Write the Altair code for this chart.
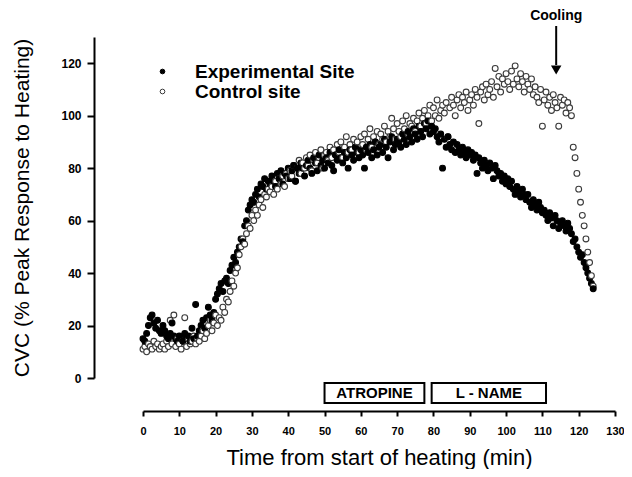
import altair as alt
import pandas as pd

# ---------------- data ----------------
# sampling grid: one reading every 0.5 min from 0 to 124 min
time_min = [i / 2 for i in range(249)]

experimental_site = [
    15, 14, 17, 20, 23, 24, 21, 19, 22, 18, 17,
    20, 18, 16, 15, 17, 21, 16, 15, 14, 16,
    15, 14, 17, 15, 16, 14, 19, 15, 28, 16,
    18, 20, 22, 19, 23, 27, 24, 22, 25, 30,
    32, 34, 36, 33, 37, 38, 36, 41, 43, 46,
    44, 48, 50, 53, 52, 58, 60, 64, 66, 68,
    67, 70, 72, 69, 74, 73, 76, 72, 75, 74,
    77, 75, 73, 78, 76, 79, 74, 78, 77, 80,
    76, 79, 81, 75, 80, 78, 82, 80, 77, 81,
    83, 80, 78, 84, 82, 79, 85, 81, 83, 80,
    84, 82, 86, 81, 79, 85, 83, 87, 84, 82,
    86, 84, 80, 87, 85, 83, 88, 86, 84, 87,
    85, 80, 88, 86, 89, 84, 87, 90, 85, 88,
    89, 86, 91, 88, 84, 90, 92, 87, 89, 91,
    90, 88, 93, 91, 89, 94, 92, 90, 95, 93,
    91, 96, 94, 92, 97, 95, 98, 93, 96, 94,
    95, 92, 90, 93, 80, 91, 88, 92, 89, 87,
    90, 86, 89, 87, 85, 88, 86, 84, 87, 85,
    86, 83, 85, 78, 84, 82, 80, 83, 81, 79,
    82, 80, 76, 81, 79, 77, 78, 75, 77, 74,
    76, 73, 75, 72, 70, 73, 71, 69, 72, 70,
    68, 70, 67, 65, 68, 66, 64, 67, 65, 63,
    64, 62, 60, 63, 61, 58, 62, 60, 57, 59,
    60, 58, 56, 59, 57, 55, 52, 53, 50, 48,
    46, 47, 44, 42, 40, 38, 36, 34,
]

control_site = [
    11, 12, 10, 13, 12, 11, 14, 12, 13, 11, 12,
    13, 11, 14, 12, 22, 13, 24, 12, 15, 13,
    11, 14, 23, 12, 15, 13, 14, 16, 13, 15,
    14, 16, 18, 15, 17, 20, 22, 18, 21, 24,
    20, 23, 22, 27, 25, 30, 29, 33, 37, 35,
    40, 42, 47, 50, 53, 51, 55, 58, 57, 62,
    60, 64, 62, 66, 68, 65, 70, 69, 72, 71,
    73, 70, 75, 72, 76, 74, 77, 73, 78, 76,
    79, 77, 81, 75, 80, 83, 78, 82, 80, 84,
    81, 85, 79, 83, 86, 82, 84, 87, 80, 85,
    86, 83, 88, 84, 87, 85, 89, 86, 90, 84,
    88, 92, 86, 89, 87, 91, 88, 90, 86, 92,
    89, 93, 87, 91, 95, 88, 92, 90, 94, 89,
    93, 91, 96, 90, 94, 92, 99, 95, 91, 97,
    94, 92, 98, 95, 100, 93, 97, 96, 99, 94,
    98, 101, 96, 99, 102, 97, 100, 104, 98, 103,
    100, 106, 99, 102, 104, 101, 105, 92, 103, 107,
    104, 100, 106, 108, 103, 107, 105, 109, 102, 106,
    108, 104, 110, 107, 97, 109, 111, 106, 112, 108,
    110, 113, 107, 118, 111, 115, 109, 114, 112, 116,
    113, 110, 117, 112, 119, 114, 111, 116, 113, 109,
    115, 112, 110, 114, 108, 111, 107, 105, 110, 96,
    106, 109, 104, 107, 102, 108, 105, 103, 96, 107,
    104, 106, 101, 105, 103, 100, 88, 84, 78, 72,
    67, 62, 58, 53, 48, 44, 39, 35,
]

site_names = ["Experimental Site", "Control site"]

drug_labels = ["ATROPINE", "L - NAME"]
drug_start = [50, 79.5]
drug_end = [77.5, 111]

cooling_label = ["Cooling"]
cooling_time = [113.8]

x_ticks = [0, 10, 20, 30, 40, 50, 60, 70, 80, 90, 100, 110, 120, 130]
y_ticks = [0, 20, 40, 60, 80, 100, 120]

# ---------------- tables ----------------
rows = []
for t, c, e in zip(time_min, control_site, experimental_site):
    rows.append({"time": t, "cvc": c, "site": site_names[1]})
    rows.append({"time": t, "cvc": e, "site": site_names[0]})
points_df = pd.DataFrame(rows)
drugs_df = pd.DataFrame({"label": drug_labels, "start": drug_start, "end": drug_end})
cool_df = pd.DataFrame({"label": cooling_label, "time": cooling_time})

FONT = "Liberation Sans"
W, H = 472, 341

xscale = alt.Scale(domain=[0, 130], nice=False, zero=False)
yscale = alt.Scale(domain=[0, 130], nice=False, zero=False)

x_axis = alt.Axis(
    values=x_ticks, title="Time from start of heating (min)", offset=33, grid=False,
    tickSize=5, tickWidth=2, tickColor="black", domainWidth=2, domainColor="black",
    labelFont=FONT, labelFontSize=11, labelFontWeight="bold", labelColor="black",
    labelPadding=9, labelFlush=False, labelOverlap=False,
    titleFont=FONT, titleFontSize=22, titleFontWeight="normal", titleColor="black",
    titleY=36, titleBaseline="top",
)
y_axis = alt.Axis(
    values=y_ticks, title="CVC (% Peak Response to Heating)", offset=49, grid=False,
    tickSize=7, tickWidth=2, tickColor="black", domainWidth=2, domainColor="black",
    labelFont=FONT, labelFontSize=12, labelFontWeight="bold", labelColor="black",
    labelPadding=6, labelFlush=False, labelOverlap=False,
    titleFont=FONT, titleFontSize=21, titleFontWeight="normal", titleColor="black",
    titleX=-62, titleY=H / 2, titleBaseline="bottom",
)

points = alt.Chart(points_df).mark_point(
    shape="circle", size=34, filled=True, opacity=1, strokeWidth=1.1
).encode(
    x=alt.X("time:Q", scale=xscale, axis=x_axis),
    y=alt.Y("cvc:Q", scale=yscale, axis=y_axis),
    fill=alt.Fill("site:N", scale=alt.Scale(domain=site_names, range=["black", "white"]), title=None),
    stroke=alt.Stroke("site:N", scale=alt.Scale(domain=site_names, range=["black", "#3a3a3a"]), title=None),
    order=alt.Order("time:Q"),
)

boxes = alt.Chart(drugs_df).mark_rect(fill="white", stroke="black", strokeWidth=2).encode(
    x=alt.X("start:Q", scale=xscale, axis=x_axis),
    x2="end:Q",
    y=alt.value(346),
    y2=alt.value(366),
)
box_text = alt.Chart(drugs_df).transform_calculate(
    mid="(datum.start + datum.end) / 2"
).mark_text(font=FONT, fontSize=15, fontWeight="bold", color="black", baseline="middle").encode(
    x=alt.X("mid:Q", scale=xscale, axis=x_axis),
    y=alt.value(356),
    text="label:N",
)

arrow_shaft = alt.Chart(cool_df).mark_rule(color="black", strokeWidth=2).encode(
    x=alt.X("time:Q", scale=xscale, axis=x_axis),
    y=alt.value(-11),
    y2=alt.value(28),
)
arrow_head = alt.Chart(cool_df).mark_point(
    shape="triangle-down", size=110, filled=True, color="black", opacity=1
).encode(
    x=alt.X("time:Q", scale=xscale, axis=x_axis),
    y=alt.value(33),
)
cool_text = alt.Chart(cool_df).mark_text(
    font=FONT, fontSize=14, fontWeight="bold", color="black", baseline="middle"
).encode(
    x=alt.X("time:Q", scale=xscale, axis=x_axis),
    y=alt.value(-21),
    text="label:N",
)

chart = alt.layer(points, boxes, box_text, arrow_shaft, arrow_head, cool_text).properties(
    width=W, height=H,
    autosize=alt.AutoSizeParams(type="none"),
    padding={"left": 135, "top": 29, "right": 9, "bottom": 91},
).configure_view(strokeWidth=0).configure_legend(
    orient="none", legendX=10, legendY=25, padding=0, offset=0,
    labelFont=FONT, labelFontSize=19, labelFontWeight="bold", labelColor="black",
    labelOffset=23, symbolSize=22, symbolType="circle", symbolStrokeWidth=1,
    rowPadding=0, labelLimit=300,
)

chart.save("out.html", embed_options={"renderer": "svg", "actions": False})
